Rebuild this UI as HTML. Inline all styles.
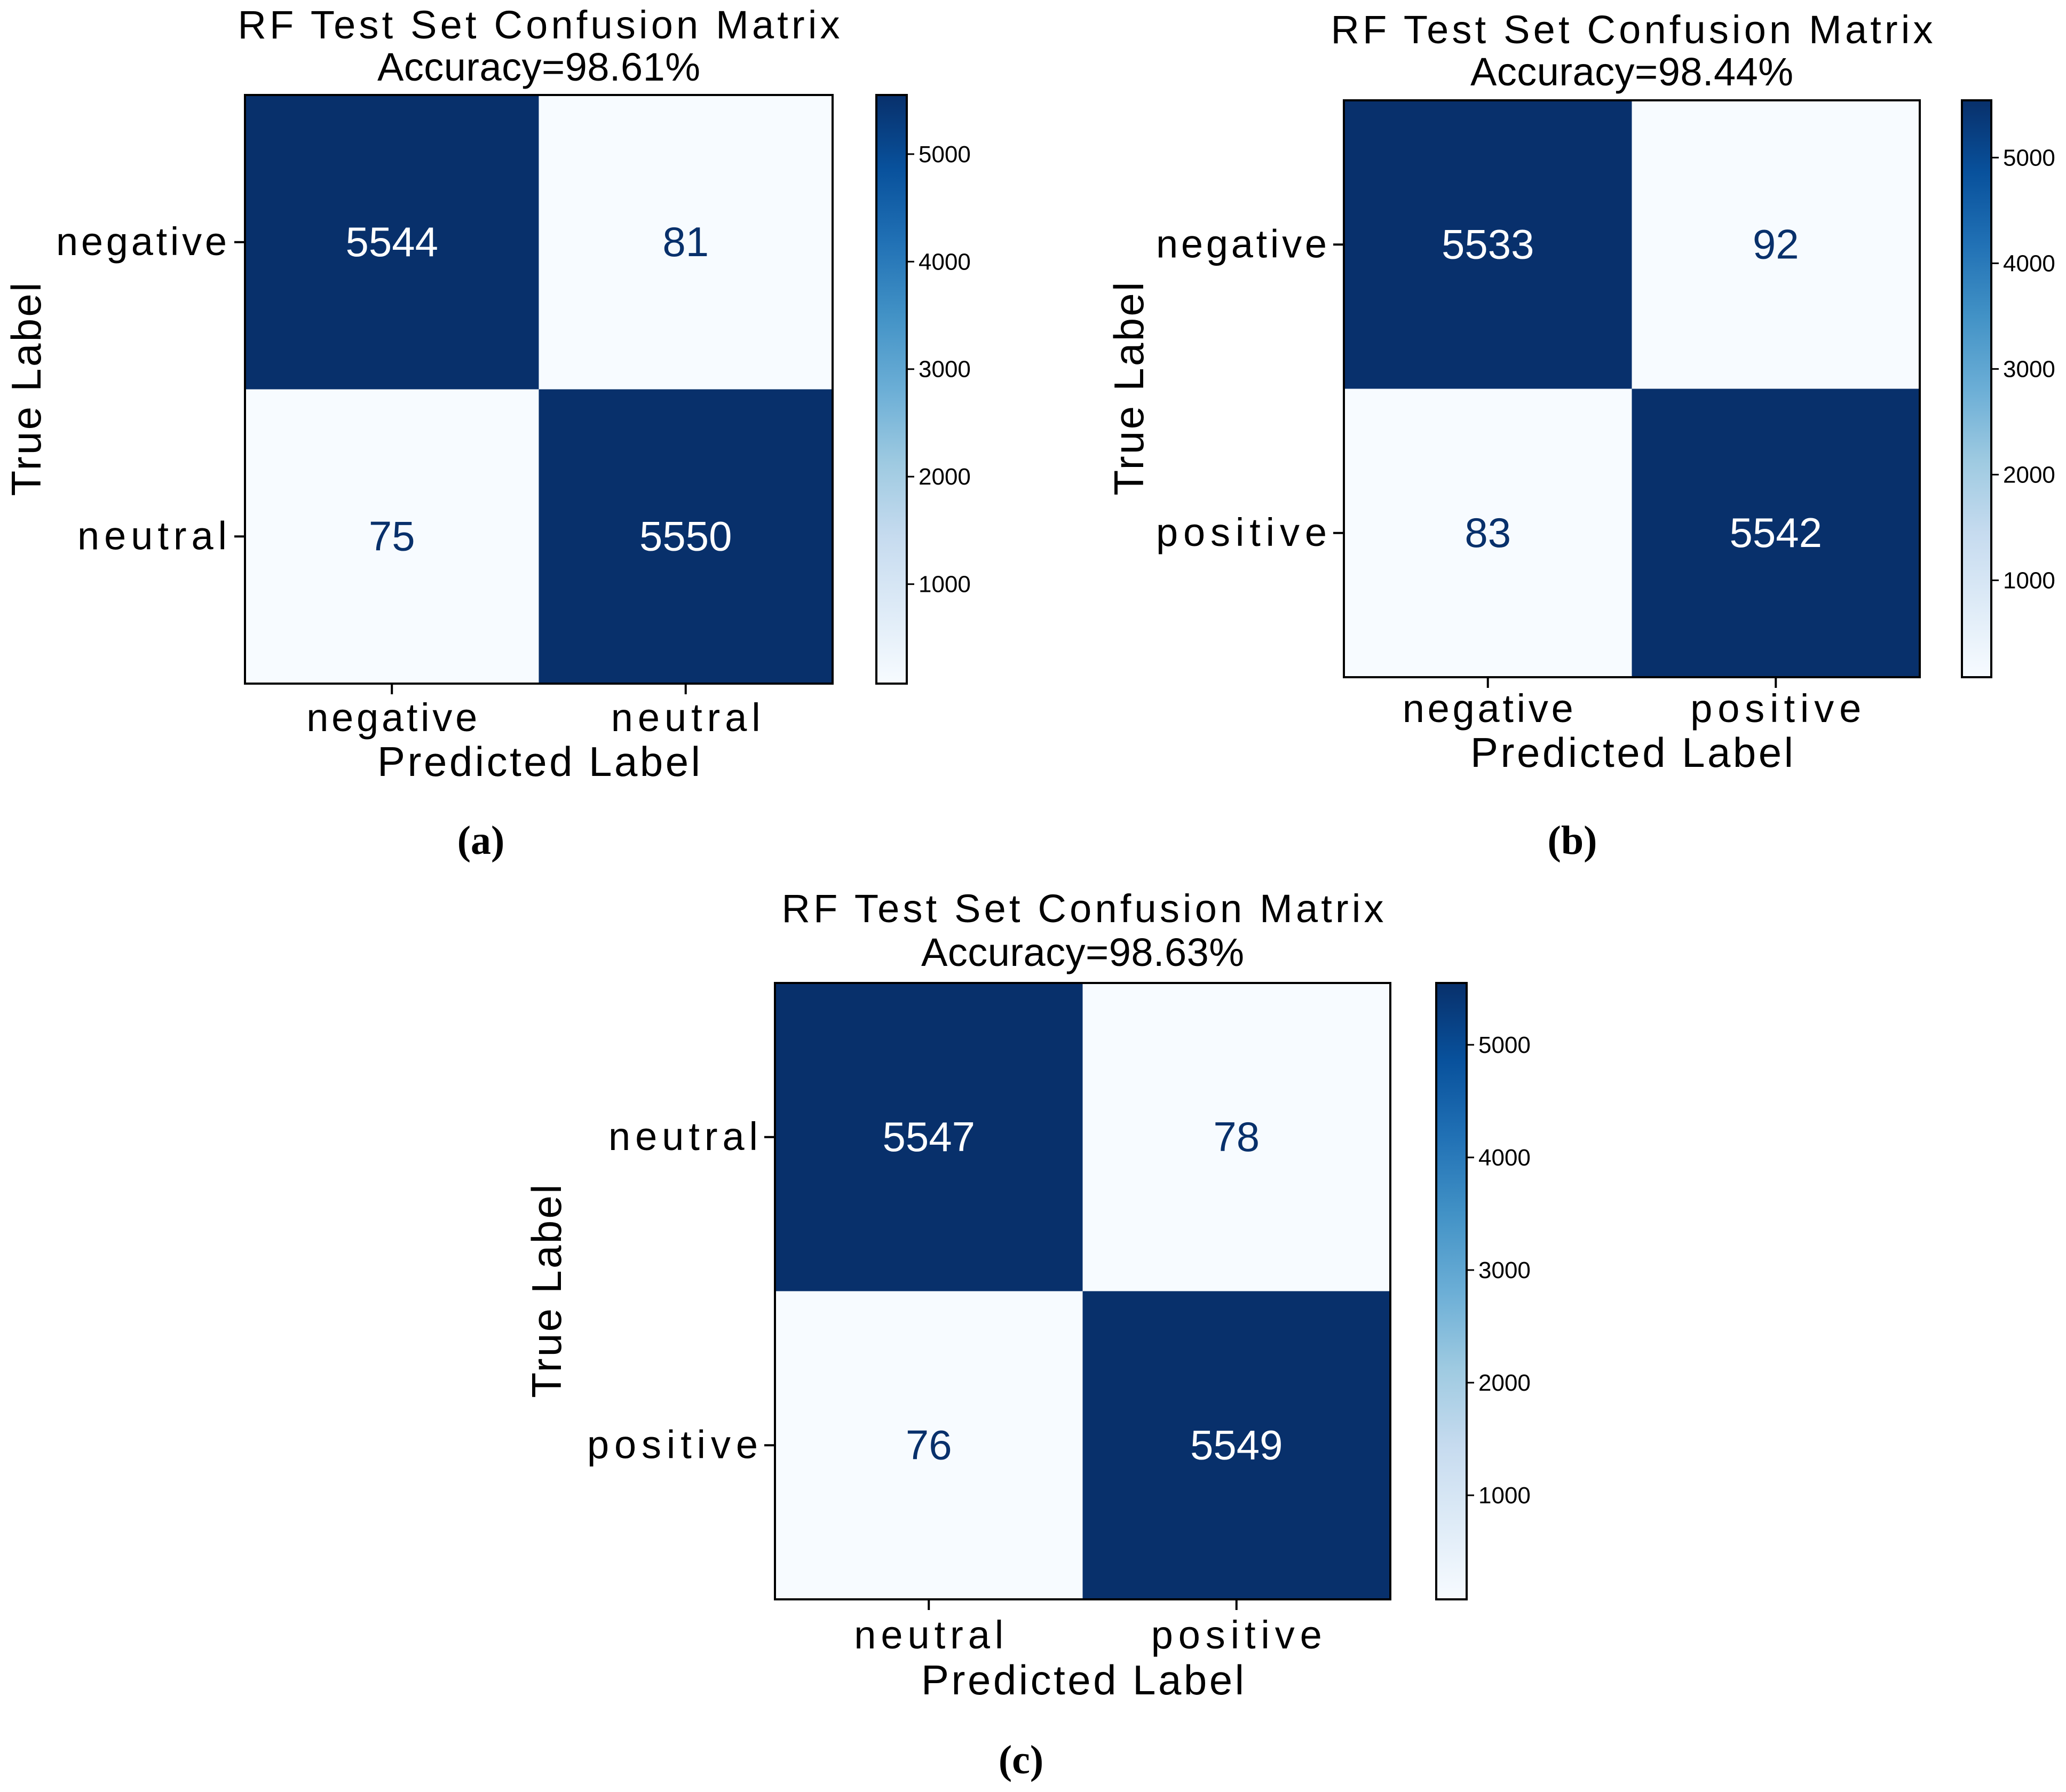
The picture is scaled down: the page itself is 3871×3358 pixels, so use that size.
<!DOCTYPE html>
<html><head><meta charset="utf-8"><style>
html,body{margin:0;padding:0;background:#fff;}
svg{display:block;}
.lab{font-family:"Liberation Sans","WenQuanYi Zen Hei",sans-serif;fill:#000;}
.num{font-family:"Liberation Sans",sans-serif;}
.cap{font-family:"Liberation Serif",serif;font-weight:bold;fill:#000;}
</style></head><body>
<svg id="fig" width="3871" height="3358" viewBox="0 0 3871 3358" xmlns="http://www.w3.org/2000/svg">
<defs>
<linearGradient id="blues" x1="0" y1="1" x2="0" y2="0">
<stop offset="0" stop-color="#f7fbff"/><stop offset="0.125" stop-color="#deebf7"/>
<stop offset="0.25" stop-color="#c6dbef"/><stop offset="0.375" stop-color="#9ecae1"/>
<stop offset="0.5" stop-color="#6baed6"/><stop offset="0.625" stop-color="#4292c6"/>
<stop offset="0.75" stop-color="#2171b5"/><stop offset="0.875" stop-color="#08519c"/>
<stop offset="1" stop-color="#08306b"/></linearGradient>
</defs>
</svg>
<script>
// Data
const panelIds = ['a','b','c'];
const labelsA = ['negative','neutral'];
const labelsB = ['negative','positive'];
const labelsC = ['neutral','positive'];
const valuesA = [[5544,81],[75,5550]];
const valuesB = [[5533,92],[83,5542]];
const valuesC = [[5547,78],[76,5549]];
const accuracies = ['98.61%','98.44%','98.63%'];
const cbTicks = [1000,2000,3000,4000,5000];

// Layout (pixels)
const layouts = [
 {x0:459,x1:1560,y0:178,y1:1281,cbx:1642,cbw:57,t1:72,t2:151,ylr:425,xtb:1370,xlb:1454,ylx:50,capx:901,capy:1600},
 {x0:2518,x1:3597,y0:188,y1:1269,cbx:3676,cbw:55,t1:81,t2:160,ylr:2486,xtb:1353,xlb:1437,ylx:2116,capx:2946,capy:1600},
 {x0:1452,x1:2605,y0:1842,y1:2997,cbx:2691,cbw:57,t1:1728,t2:1810,ylr:1420,xtb:3089,xlb:3175,ylx:1025,capx:1913,capy:3323}
];
const labelSets=[labelsA,labelsB,labelsC];
const valueSets=[valuesA,valuesB,valuesC];
const NS='http://www.w3.org/2000/svg';
const svg=document.getElementById('fig');
const stops=[[247,251,255],[222,235,247],[198,219,239],[158,202,225],[107,174,214],[66,146,198],[33,113,181],[8,81,156],[8,48,107]];
function blues(t){t=Math.max(0,Math.min(1,t));const p=t*8;const i=Math.min(7,Math.floor(p));const f=p-i;
 const c=stops[i].map((v,k)=>Math.round(v+(stops[i+1][k]-v)*f));return 'rgb('+c.join(',')+')';}
function mk(tag,attrs,parent,text){const e=document.createElementNS(NS,tag);for(const k in attrs)e.setAttribute(k,attrs[k]);if(text!==undefined)e.textContent=text;(parent||svg).appendChild(e);return e;}

panelIds.forEach((pid,p)=>{
 const L=layouts[p],labels=labelSets[p],vals=valueSets[p];
 const g=mk('g',{});
 
 
 const flat=vals.flat();const vmin=Math.min(...flat),vmax=Math.max(...flat);
 const n=labels.length;const cw=(L.x1-L.x0)/n,ch=(L.y1-L.y0)/n;
 const xs=i=>L.x0+cw*(i+0.5), ys=j=>L.y0+ch*(j+0.5);
 const cx=(L.x0+L.x1)/2;
 const t1=mk('text',{x:cx,y:L.t1,'text-anchor':'middle','font-size':74,class:'lab',textLength:1128,lengthAdjust:'spacing'},g,'RF Test Set Confusion Matrix');
 
 
 const t2=mk('text',{x:cx,y:L.t2,'text-anchor':'middle','font-size':74,class:'lab',textLength:605,lengthAdjust:'spacing'},g,'Accuracy='+accuracies[p]);
 
 
 for(let r=0;r<n;r++)for(let c=0;c<n;c++){
  const v=vals[r][c];const t=(v-vmin)/(vmax-vmin);
  const rect=mk('rect',{x:L.x0+cw*c,y:L.y0+ch*r,width:cw,height:ch,fill:blues(t)},g);
  
  
  const tx=mk('text',{x:xs(c),y:ys(r)+26,'text-anchor':'middle','font-size':78,class:'num',fill:t>0.5?'#ffffff':'#08306b'},g,String(v));
  
  
 }
 const fr=mk('rect',{x:L.x0,y:L.y0,width:L.x1-L.x0,height:L.y1-L.y0,fill:'none',stroke:'#000','stroke-width':4},g);
 
 
 labels.forEach((lb,i)=>{
  mk('line',{x1:L.x0-20,x2:L.x0,y1:ys(i),y2:ys(i),stroke:'#000','stroke-width':4},g);
  const yl=mk('text',{x:L.ylr,y:ys(i)+24,'text-anchor':'end','font-size':74,class:'lab',textLength:lb.length*40,lengthAdjust:'spacing'},g,lb);
  
  
  mk('line',{x1:xs(i),x2:xs(i),y1:L.y1,y2:L.y1+20,stroke:'#000','stroke-width':4},g);
  const xl=mk('text',{x:xs(i),y:L.xtb,'text-anchor':'middle','font-size':74,class:'lab',textLength:lb.length*40,lengthAdjust:'spacing'},g,lb);
  
  
 });
 const xlab=mk('text',{x:cx,y:L.xlb,'text-anchor':'middle','font-size':78,class:'lab',textLength:605,lengthAdjust:'spacing'},g,'Predicted Label');
 
 
 const cy=(L.y0+L.y1)/2;
 const ylab=mk('text',{x:L.ylx,y:cy,'text-anchor':'middle','font-size':78,class:'lab',textLength:400,lengthAdjust:'spacing',transform:'rotate(-90 '+L.ylx+' '+cy+') translate(0 26)'},g,'True Label');
 
 
 const cb=mk('rect',{x:L.cbx,y:L.y0,width:L.cbw,height:L.y1-L.y0,fill:'url(#blues)',stroke:'#000','stroke-width':4},g);
 
 
 const cby=v=>L.y1-(v-vmin)/(vmax-vmin)*(L.y1-L.y0);
 cbTicks.forEach(v=>{
  const y=cby(v);
  mk('line',{x1:L.cbx+L.cbw,x2:L.cbx+L.cbw+14,y1:y,y2:y,stroke:'#000','stroke-width':3},g);
  const tl=mk('text',{x:L.cbx+L.cbw+22,y:y+15,'font-size':44,class:'lab'},g,String(v));
  
  
 });
 const cap=mk('text',{x:L.capx,y:L.capy,'text-anchor':'middle','font-size':76,class:'cap'},g,'('+pid+')');
 
 
});
</script>
</body></html>
